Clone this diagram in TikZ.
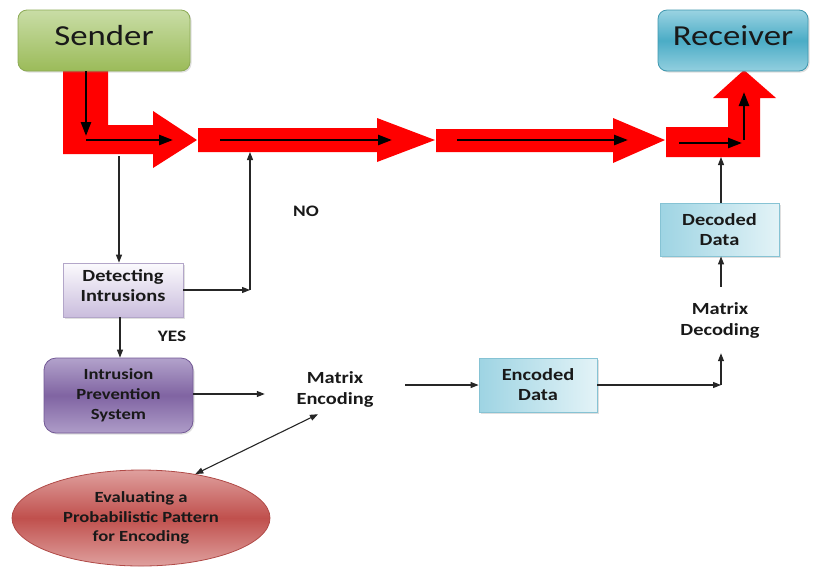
\documentclass[tikz,border=0pt]{standalone}
\usepackage{fontspec}
\newfontfamily\lab{Carlito}[FakeStretch=1.2]
\usetikzlibrary{arrows.meta,shapes.geometric,shadows}
\definecolor{arrred}{HTML}{FF0000}
\definecolor{sendtop}{HTML}{C9DDA6}
\definecolor{sendbot}{HTML}{9BBB59}
\definecolor{sendline}{HTML}{8CAA55}
\definecolor{rectop}{HTML}{9AD3E2}
\definecolor{recmid}{HTML}{4BACC6}
\definecolor{recbot}{HTML}{92CFDF}
\definecolor{recline}{HTML}{3F97AE}
\definecolor{dettop}{HTML}{FBFAFD}
\definecolor{detbot}{HTML}{CABDDD}
\definecolor{detline}{HTML}{B3A6C9}
\definecolor{ipstop}{HTML}{B2A2CB}
\definecolor{ipsmid}{HTML}{8064A2}
\definecolor{ipsbot}{HTML}{AE9CC8}
\definecolor{ipsline}{HTML}{725895}
\definecolor{datl}{HTML}{9ED4E3}
\definecolor{datr}{HTML}{E3F3F7}
\definecolor{datline}{HTML}{86C3D4}
\definecolor{evedge}{HTML}{DFA09E}
\definecolor{evmid}{HTML}{C0504D}
\definecolor{evline}{HTML}{B04A47}
\tikzset{
  redshape/.style={fill=arrred},
  bigarrow/.style={line width=2.5pt,black,-{Triangle[length=14pt,width=10pt]}},
  conn/.style={line width=1.1pt,black!85,-{Triangle[length=8pt,width=6pt]}},
  dconn/.style={line width=1.1pt,black!85,{Triangle[length=8pt,width=6pt]}-{Triangle[length=8pt,width=6pt]}},
  titlebox/.style={rounded corners=9pt,line width=0.8pt,font=\lab\fontsize{29}{32}\selectfont,text=black!90,
    text depth=10pt,
    drop shadow={opacity=0.25,shadow xshift=1.5pt,shadow yshift=-1.5pt}},
  smallbox/.style={line width=0.8pt,align=center,font=\lab\bfseries\fontsize{17}{20}\selectfont,text=black!90,
    drop shadow={opacity=0.25,shadow xshift=1.5pt,shadow yshift=-1.5pt}},
  plaintext/.style={align=center,font=\lab\bfseries\fontsize{17}{21}\selectfont,text=black!90},
  tag/.style={font=\lab\bfseries\fontsize{16}{19}\selectfont,text=black!90}
}
\begin{document}
\begin{tikzpicture}[x=1pt,y=-1pt]
\useasboundingbox (0,0) rectangle (821,566);

% big red arrows
\fill[redshape] (63,70) -- (108,70) -- (108,125) -- (153,125) -- (153,111) -- (197,140)
  -- (153,168) -- (153,154) -- (63,154) -- cycle;
\fill[redshape] (198,128) -- (377,128) -- (377,118) -- (435,140) -- (377,162) -- (377,152) -- (198,152) -- cycle;
\fill[redshape] (436,129) -- (613,129) -- (613,118) -- (665,140) -- (613,163) -- (613,152) -- (436,152) -- cycle;
\fill[redshape] (666,127) -- (728,127) -- (728,98) -- (713,98) -- (744,70) -- (776,98) -- (760,98)
  -- (760,157) -- (666,157) -- cycle;

% nodes
\node[titlebox,draw=sendline,top color=sendtop,bottom color=sendbot,minimum width=172pt,minimum height=61pt]
  (sender) at (104,40.5) {Sender};
\node[titlebox,draw=recline,top color=rectop,bottom color=recbot,middle color=recmid,minimum width=150pt,minimum height=61pt]
  (receiver) at (733,40.5) {Receiver};
\node[smallbox,draw=detline,top color=dettop,bottom color=detbot,minimum width=120pt,minimum height=54pt,text depth=8pt]
  (detect) at (123,290) {Detecting\\Intrusions};
\node[smallbox,rounded corners=12pt,draw=ipsline,top color=ipstop,bottom color=ipsbot,middle color=ipsmid,
  minimum width=149pt,minimum height=75pt,font=\lab\bfseries\fontsize{15.5}{20}\selectfont]
  (ips) at (118.5,395.5) {Intrusion\\Prevention\\System};
\node[plaintext,minimum width=140pt,minimum height=50pt] (menc) at (335,389) {Matrix\\Encoding};
\node[smallbox,draw=datline,left color=datl,right color=datr,minimum width=118pt,minimum height=54pt]
  (enc) at (538,385) {Encoded\\Data};
\node[plaintext,minimum height=66pt] (mdec) at (720,320) {Matrix\\Decoding};
\node[smallbox,draw=datline,left color=datl,right color=datr,minimum width=119pt,minimum height=53pt]
  (dec) at (719.5,229.5) {Decoded\\Data};
\node[ellipse,draw=evline,line width=0.8pt,top color=evedge,bottom color=evedge,middle color=evmid,
  minimum width=258pt,minimum height=96pt,inner sep=0pt,align=center,
  font=\lab\bfseries\fontsize{15.5}{19.5}\selectfont,text=black!90]
  (eval) at (141,518) {Evaluating a\\Probabilistic Pattern\\for Encoding};

\node[tag] (no) at (306,211) {NO};
\node[tag] (yes) at (172,336) {YES};

% black arrows inside the red arrows
\coordinate (k0) at (86,71);
\coordinate (k1) at (86,136);
\coordinate (k2a) at (86,140);
\coordinate (k2b) at (173,140);
\coordinate (k3a) at (220,140);
\coordinate (k3b) at (392,140);
\coordinate (k4a) at (457,140);
\coordinate (k4b) at (628,140);
\coordinate (k5a) at (679,143);
\coordinate (k5b) at (742,143);
\coordinate (k6a) at (744,140);
\coordinate (k6b) at (744,92);
\draw[bigarrow] (k0) -- (k1);
\draw[bigarrow] (k2a) -- (k2b);
\draw[bigarrow] (k3a) -- (k3b);
\draw[bigarrow] (k4a) -- (k4b);
\draw[bigarrow] (k5a) -- (k5b);
\draw[bigarrow] (k6a) -- (k6b);

% connectors
\coordinate (a1b) at (119,156);
\coordinate (a2b) at (250,152);
\coordinate (nojoin) at (250,290);
\coordinate (a4b) at (721,157);
\coordinate (mdcorner) at (721,385);
\coordinate (yesx) at (120,0);
\coordinate (ipsy) at (0,394);
\draw[conn] (a1b) -- (a1b |- detect.north);
\draw[conn] (detect.east |- nojoin) -- (nojoin);
\draw[conn] (nojoin) -- (a2b);
\draw[conn] (detect.south -| yesx) -- (ips.north -| yesx);
\draw[conn] (ips.east |- ipsy) -- (menc.west |- ipsy);
\draw[conn] (menc.east |- mdcorner) -- (enc.west |- mdcorner);
\draw[conn] (enc.east |- mdcorner) -- (mdcorner);
\draw[conn] (mdcorner) -- (mdec.south -| mdcorner);
\draw[conn] (mdec.north -| mdcorner) -- (dec.south -| mdcorner);
\draw[conn] (dec.north -| a4b) -- (a4b);
\draw[dconn] (eval.39) -- ([xshift=-17pt]menc.south);
\end{tikzpicture}
\end{document}
